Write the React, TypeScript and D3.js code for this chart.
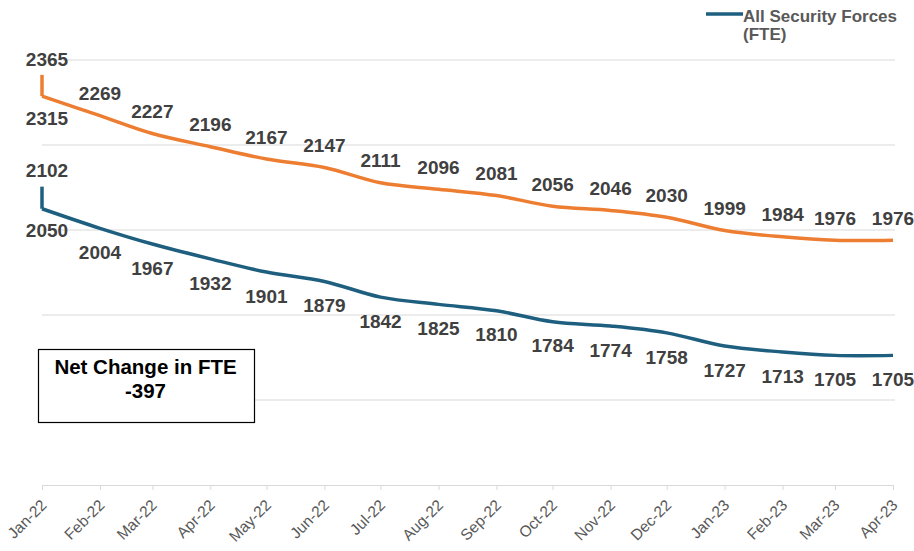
import { useEffect, useRef } from 'react';
import * as d3 from 'd3';

// first month carries two readings (start and end of Jan-22)
const pointDates = [
  '2022-01-01', '2022-01-01', '2022-02-01', '2022-03-01', '2022-04-01', '2022-05-01',
  '2022-06-01', '2022-07-01', '2022-08-01', '2022-09-01', '2022-10-01', '2022-11-01',
  '2022-12-01', '2023-01-01', '2023-02-01', '2023-03-01', '2023-04-01',
];
const orangeValues = [2365, 2315, 2269, 2227, 2196, 2167, 2147, 2111, 2096, 2081, 2056, 2046, 2030, 1999, 1984, 1976, 1976];
const blueValues = [2102, 2050, 2004, 1967, 1932, 1901, 1879, 1842, 1825, 1810, 1784, 1774, 1758, 1727, 1713, 1705, 1705];
const orangeLabelPos = ['above', 'below', 'above', 'above', 'above', 'above', 'above', 'above', 'above', 'above', 'above', 'above', 'above', 'above', 'above', 'above', 'above'];
const blueLabelPos = ['above', 'below', 'below', 'below', 'below', 'below', 'below', 'below', 'below', 'below', 'below', 'below', 'below', 'below', 'below', 'below', 'below'];
const tickMonths = pointDates.slice(1);
const gridValues = [1600, 1800, 2000, 2200, 2400];
const legendLabel = ['All Security Forces', '(FTE)'];
const noteLines = ['Net Change in FTE', '-397'];

const ORANGE = '#ED7D31';
const BLUE = '#1E5F80';
const FONT = '"Liberation Sans", Arial, sans-serif';

export default function App() {
  const svgRef = useRef<SVGSVGElement>(null);

  useEffect(() => {
    if (!svgRef.current) return;
    const svg = d3.select(svgRef.current);
    svg.selectAll('*').remove();

    const W = 914, H = 551;
    const margin = { top: 60, right: 21, bottom: 66, left: 42 };
    svg.attr('width', W).attr('height', H);

    const parse = d3.timeParse('%Y-%m-%d');
    const x = d3.scaleTime()
      .domain([parse('2022-01-01')!, parse('2023-04-01')!])
      .range([margin.left, W - margin.right]);
    const y = d3.scaleLinear()
      .domain([1400, 2400])
      .range([H - margin.bottom, margin.top]);

    // Gridlines
    svg.append('g')
      .selectAll('line')
      .data(gridValues)
      .join('line')
      .attr('x1', margin.left)
      .attr('x2', W - margin.right + 2)
      .attr('y1', d => y(d))
      .attr('y2', d => y(d))
      .attr('stroke', '#d9d9d9')
      .attr('stroke-width', 1);

    // X axis
    const xAxis = svg.append('g')
      .attr('transform', `translate(0,${y(1400)})`)
      .call(
        d3.axisBottom(x)
          .tickValues(tickMonths.map(d => parse(d)!))
          .tickSize(5)
          .tickSizeOuter(0)
          .tickFormat(d => d3.timeFormat('%b-%y')(d as Date))
      );
    xAxis.select('.domain').attr('stroke', '#d9d9d9');
    xAxis.selectAll('.tick line').attr('stroke', '#d9d9d9');
    xAxis.selectAll('.tick text')
      .attr('fill', '#595959')
      .attr('font-family', FONT)
      .attr('font-size', '15.5px')
      .attr('text-anchor', 'end')
      .attr('transform', 'translate(-4,12) rotate(-45)')
      .attr('dy', '0.7em')
      .attr('y', 2)
      .attr('x', 0);

    const series = [
      { values: orangeValues, color: ORANGE, pos: orangeLabelPos },
      { values: blueValues, color: BLUE, pos: blueLabelPos },
    ];

    const line = d3.line<[Date, number]>()
      .x(d => x(d[0]))
      .y(d => y(d[1]));

    series.forEach(s => {
      const pts: [Date, number][] = s.values.map((v, i) => [parse(pointDates[i])!, v]);
      // straight drop within the first month, smoothed afterwards
      svg.append('path')
        .attr('d', line.curve(d3.curveLinear)(pts.slice(0, 2)))
        .attr('fill', 'none')
        .attr('stroke', s.color)
        .attr('stroke-width', 3.5)
        .attr('stroke-linejoin', 'round');
      svg.append('path')
        .attr('d', line.curve(d3.curveCatmullRom.alpha(0.5))(pts.slice(1)))
        .attr('fill', 'none')
        .attr('stroke', s.color)
        .attr('stroke-width', 3.5)
        .attr('stroke-linejoin', 'round');

      svg.append('g')
        .selectAll('text')
        .data(pts)
        .join('text')
        .attr('x', (d, i) => x(d[0]) + (i < 2 ? 5 : 0))
        .attr('y', (d, i) => {
          const above = s.pos[i] === 'above';
          if (i < 2) return y(d[1]) + (above ? -16 : 22);
          return y(d[1]) + (above ? -22 : 24);
        })
        .attr('dy', '0.35em')
        .attr('text-anchor', 'middle')
        .attr('fill', '#404040')
        .attr('font-family', FONT)
        .attr('font-size', '19px')
        .attr('font-weight', 'bold')
        .text(d => d[1]);
    });

    // Legend
    const lg = svg.append('g').attr('transform', 'translate(706,14)');
    lg.append('line')
      .attr('x1', 0).attr('x2', 37)
      .attr('stroke', BLUE).attr('stroke-width', 3.5);
    lg.append('text')
      .attr('font-family', FONT)
      .attr('font-size', '17px')
      .attr('font-weight', 'bold')
      .attr('fill', '#595959')
      .selectAll('tspan')
      .data(legendLabel)
      .join('tspan')
      .attr('x', 37)
      .attr('y', (_, i) => 7.5 + i * 18)
      .text(d => d);

    // Net change note
    const note = svg.append('g').attr('transform', 'translate(38.5,349.5)');
    note.append('rect')
      .attr('width', 216).attr('height', 73)
      .attr('fill', '#fff')
      .attr('stroke', '#000')
      .attr('stroke-width', 1.2);
    note.append('text')
      .attr('font-family', FONT)
      .attr('font-size', '20.5px')
      .attr('font-weight', 'bold')
      .attr('fill', '#000')
      .attr('text-anchor', 'middle')
      .selectAll('tspan')
      .data(noteLines)
      .join('tspan')
      .attr('x', 107)
      .attr('y', (_, i) => 24 + i * 24)
      .text(d => d);
  }, []);

  return (
    <svg
      ref={svgRef}
      style={{ position: 'absolute', left: 0, top: 0, background: '#fff' }}
    />
  );
}
